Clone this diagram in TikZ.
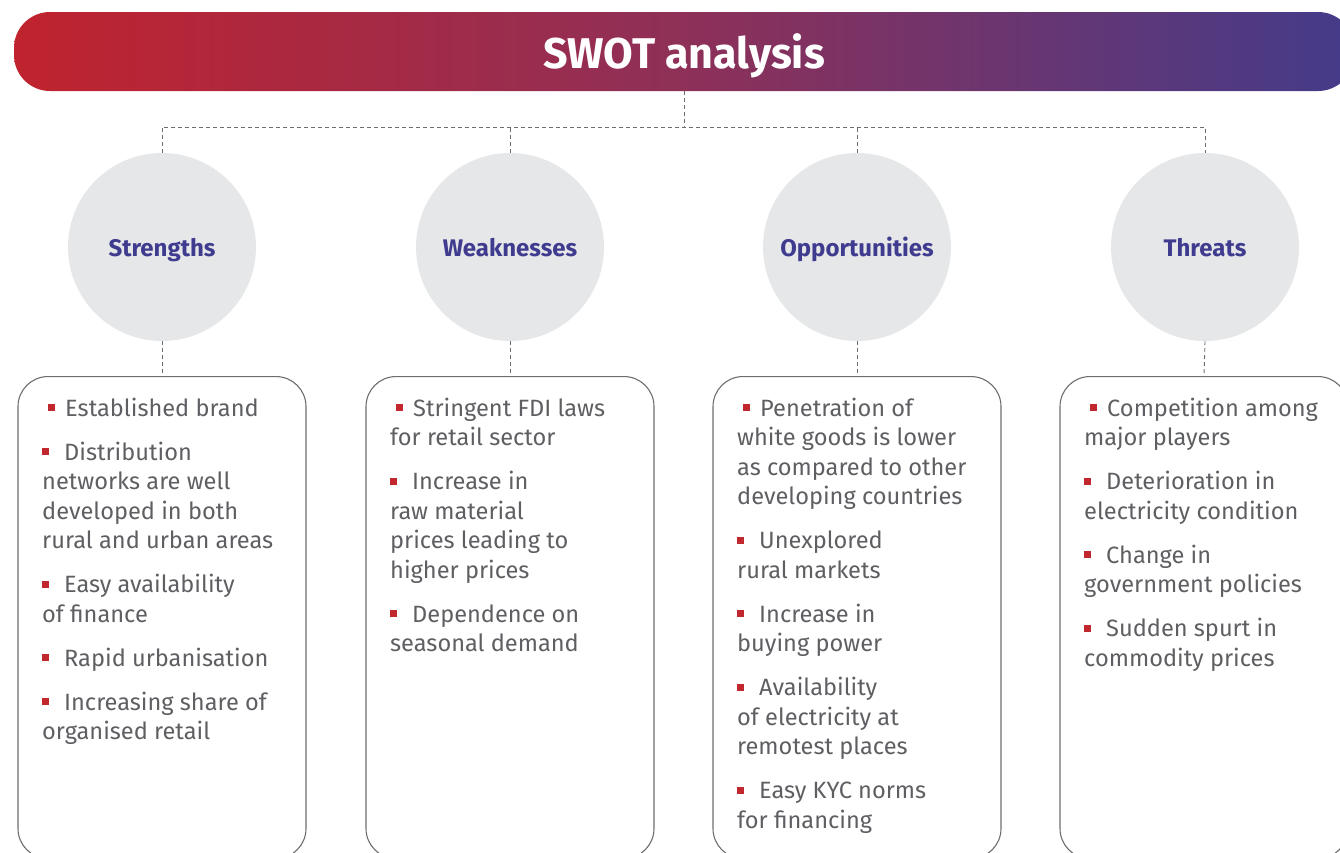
\documentclass[tikz,border=0pt]{standalone}
\usepackage{fontspec}
\setmainfont{Fira Sans}
\definecolor{txtgray}{HTML}{5E5F62}
\definecolor{lblblue}{HTML}{3F3B8F}
\definecolor{circgray}{HTML}{E6E7E8}
\definecolor{bulred}{HTML}{C1272D}
\definecolor{gradred}{HTML}{C0232E}
\definecolor{gradmid}{HTML}{8E3058}
\definecolor{gradblue}{HTML}{443B8A}
\definecolor{linegray}{HTML}{6D6E71}
\newcommand\firstbul{\hspace*{6pt}\textcolor{bulred}{\raisebox{5pt}{\rule{7pt}{7pt}}}\hspace{10pt}}
\newcommand\otherbul{\textcolor{bulred}{\raisebox{5pt}{\rule{7pt}{7pt}}}\hspace{15pt}}
\newcommand\swotlist[1]{\parbox[t]{275pt}{\fontsize{23.6}{29.5}\selectfont\setlength{\parindent}{0pt}\setlength{\parskip}{14.5pt}\raggedright #1}}
\begin{document}
\begin{tikzpicture}[x=1pt,y=-1pt,
  conn/.style={draw=linegray, line width=0.9pt, dash pattern=on 4pt off 3pt},
  swotcircle/.style={circle, fill=circgray, minimum size=188pt, inner sep=0pt,
    text depth=0pt, font=\fontsize{24}{28}\selectfont\bfseries, text=lblblue},
  swotbox/.style={draw=linegray, line width=1.1pt, rounded corners=30pt, fill=white,
    minimum width=288pt, minimum height=482pt, anchor=north, inner sep=0pt},
  listtext/.style={anchor=base west, inner sep=0pt, text=txtgray}
]
\useasboundingbox (0,0) rectangle (1340,852);
\begin{scope}
\clip (0,0) rectangle (1340,852);
\node[minimum width=1340pt, minimum height=79pt, rounded corners=36pt, inner sep=0pt,
  left color=gradred, right color=gradblue, middle color=gradmid, text depth=0pt,
  font=\fontsize{43}{48}\selectfont\bfseries, text=white] (title) at (684,51.5) {SWOT analysis};

\node[swotcircle] (S) at (162,247) {Strengths};
\node[swotcircle] (W) at (510,247) {Weaknesses};
\node[swotcircle] (O) at (857,247) {Opportunities};
\node[swotcircle] (T) at (1205,247) {Threats};

\node[swotbox] (Sb) at (162,376) {};
\node[swotbox] (Wb) at (510,376) {};
\node[swotbox] (Ob) at (857,376) {};
\node[swotbox] (Tb) at (1204,376) {};

\coordinate (hub) at (684,127);
\draw[conn] (title.south) -- (hub);
\draw[conn] (S.north) |- (T.north |- hub) -- (T.north);
\draw[conn] (W.north) -- (W.north |- hub);
\draw[conn] (O.north) -- (O.north |- hub);
\draw[conn] (S.south) -- (Sb.north);
\draw[conn] (W.south) -- (Wb.north);
\draw[conn] (O.south) -- (Ob.north);
\draw[conn] (T.south) -- (Tb.north);

\node[listtext] (St) at (42,416) {\swotlist{%
\firstbul Established brand\par
\otherbul Distribution\\ networks are well\\ developed in both\\ rural and urban areas\par
\otherbul Easy availability\\ of finance\par
\otherbul Rapid urbanisation\par
\otherbul Increasing share of\\ organised retail}};

\node[listtext] (Wt) at (390,416) {\swotlist{%
\firstbul Stringent FDI laws\\ for retail sector\par
\otherbul Increase in\\ raw material\\ prices leading to\\ higher prices\par
\otherbul Dependence on\\ seasonal demand}};

\node[listtext] (Ot) at (737,416) {\swotlist{%
\firstbul Penetration of\\ white goods is lower\\ as compared to other\\ developing countries\par
\otherbul Unexplored\\ rural markets\par
\otherbul Increase in\\ buying power\par
\otherbul Availability\\ of electricity at\\ remotest places\par
\otherbul Easy KYC norms\\ for financing}};

\node[listtext] (Tt) at (1084,416) {\swotlist{%
\firstbul Competition among\\ major players\par
\otherbul Deterioration in\\ electricity condition\par
\otherbul Change in\\ government policies\par
\otherbul Sudden spurt in\\ commodity prices}};
\end{scope}
\end{tikzpicture}
\end{document}
